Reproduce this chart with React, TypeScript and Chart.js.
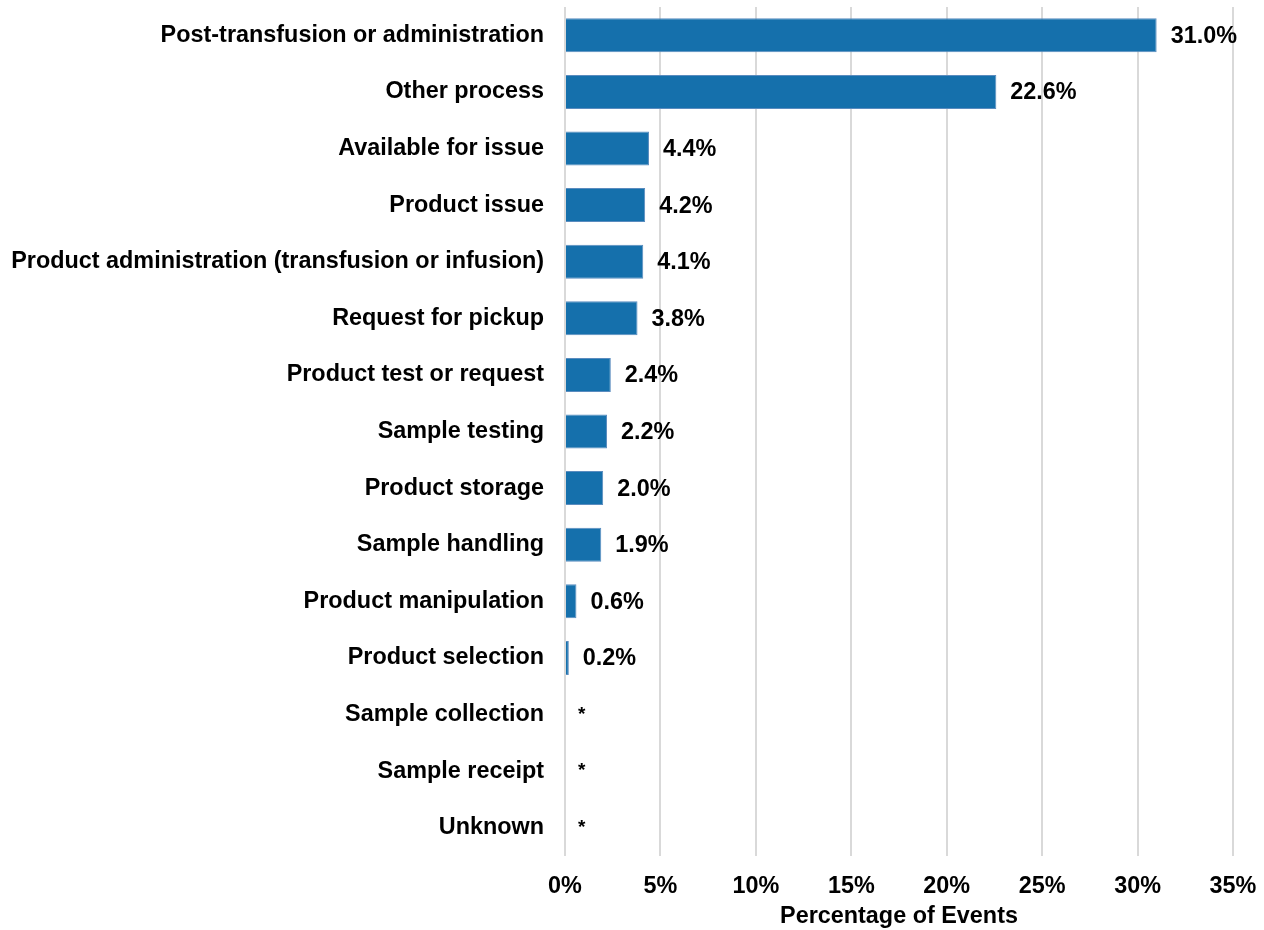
import React, { useEffect, useRef } from "react";
import { Chart, registerables } from "chart.js";

Chart.register(...registerables);

const categories = [
  "Post-transfusion or administration",
  "Other process",
  "Available for issue",
  "Product issue",
  "Product administration (transfusion or infusion)",
  "Request for pickup",
  "Product test or request",
  "Sample testing",
  "Product storage",
  "Sample handling",
  "Product manipulation",
  "Product selection",
  "Sample collection",
  "Sample receipt",
  "Unknown",
];

const values: (number | null)[] = [31.0, 22.6, 4.4, 4.2, 4.1, 3.8, 2.4, 2.2, 2.0, 1.9, 0.6, 0.2, null, null, null];

const valueLabels = ["31.0%", "22.6%", "4.4%", "4.2%", "4.1%", "3.8%", "2.4%", "2.2%", "2.0%", "1.9%", "0.6%", "0.2%", "*", "*", "*"];

const xTicks = [0, 5, 10, 15, 20, 25, 30, 35];

const FONT = "'Liberation Sans', Arial, Helvetica, sans-serif";
const FS = 23.4;

const labelPlugin = {
  id: "valueLabels",
  afterDatasetsDraw(chart: any) {
    const { ctx } = chart;
    const meta = chart.getDatasetMeta(0);
    const xScale = chart.scales.x;
    ctx.save();
    ctx.font = `bold ${FS}px ${FONT}`;
    ctx.fillStyle = "#000";
    ctx.textAlign = "left";
    ctx.textBaseline = "middle";
    meta.data.forEach((bar: any, i: number) => {
      const v = values[i];
      const yPos = chart.scales.y.getPixelForValue(i);
      const xEnd = v == null ? xScale.getPixelForValue(0) : bar.x;
      const txt = valueLabels[i];
      if (txt === "*") {
        ctx.font = `bold 19px ${FONT}`;
        ctx.fillText(txt, xEnd + 13, yPos);
        ctx.font = `bold ${FS}px ${FONT}`;
      } else {
        ctx.fillText(txt, xEnd + 14, yPos + 1);
      }
    });
    ctx.restore();
  },
};

export default function App() {
  const ref = useRef<HTMLCanvasElement>(null);
  useEffect(() => {
    document.body.style.margin = "0";
    const chart = new Chart(ref.current!, {
      type: "bar",
      data: {
        labels: categories,
        datasets: [
          {
            data: values as any,
            backgroundColor: "#1570AC",
            borderColor: "#5A8CBF",
            borderWidth: 1,
            barPercentage: 0.6,
            categoryPercentage: 1,
          },
        ],
      },
      options: {
        indexAxis: "y",
        animation: false,
        responsive: false,
        layout: { padding: { top: 7, left: 0, right: 31, bottom: 0 } },
        plugins: {
          legend: { display: false },
          tooltip: { enabled: false },
        },
        scales: {
          y: {
            grid: { display: false },
            border: { display: false },
            ticks: {
              color: "#000",
              padding: 13,
              font: { family: FONT, size: FS, weight: "bold" },
            },
            afterFit(scale: any) {
              scale.width = 565;
              scale.paddingTop = 0;
              scale.paddingBottom = 0;
            },
          },
          x: {
            min: 0,
            max: 35,
            afterBuildTicks(scale: any) {
              scale.ticks = xTicks.map((v) => ({ value: v }));
            },
            grid: { color: "#D9D9D9", lineWidth: 2, drawTicks: false },
            border: { display: false },
            ticks: {
              color: "#000",
              padding: 17,
              maxRotation: 0,
              font: { family: FONT, size: FS, weight: "bold" },
              callback: (v: any) => `${v}%`,
            },
            title: {
              display: true,
              text: "Percentage of Events",
              color: "#000",
              font: { family: FONT, size: FS, weight: "bold" },
              padding: { top: 2, bottom: -1 },
            },
            afterFit(scale: any) {
              scale.height = 74;
              scale.paddingLeft = 0;
              scale.paddingRight = 0;
            },
          },
        },
      },
      plugins: [labelPlugin],
    });
    return () => chart.destroy();
  }, []);
  return <canvas ref={ref} width={1264} height={930} style={{ display: "block" }} />;
}
